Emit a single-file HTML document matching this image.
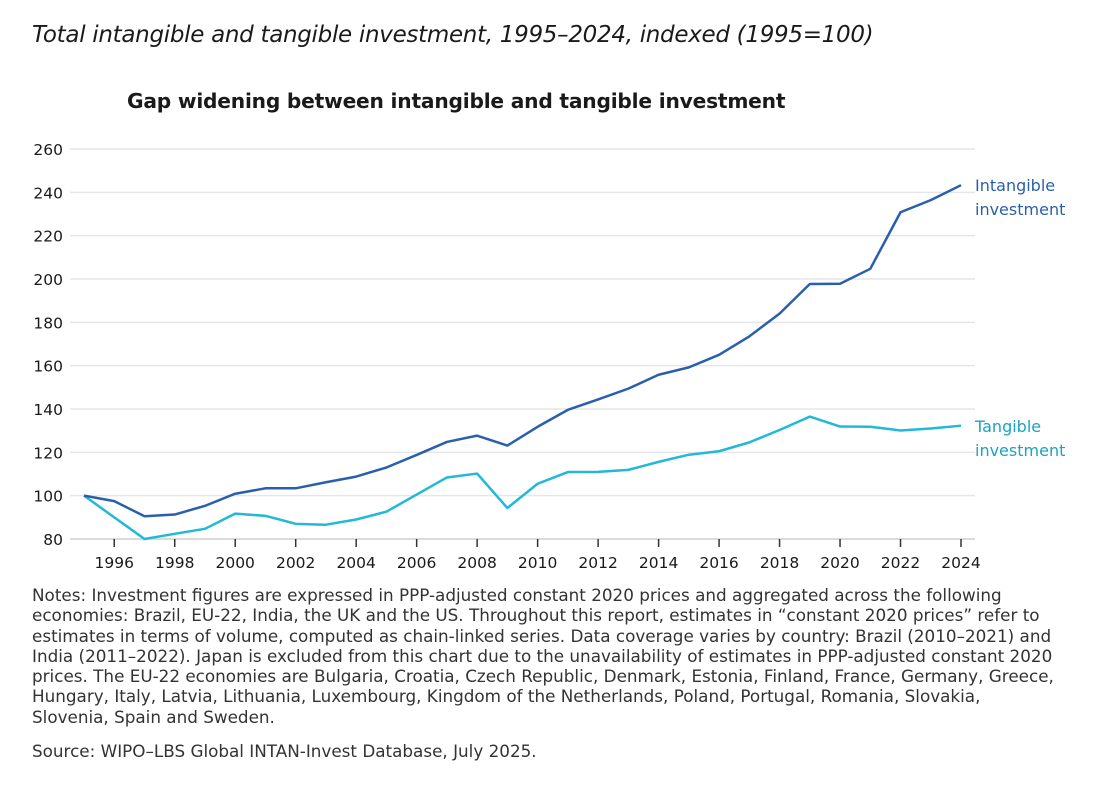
<!DOCTYPE html>
<html><head><meta charset="utf-8"><style>
body{margin:0;background:#fff;font-family:"DejaVu Sans",sans-serif;}
#wrap{position:relative;width:1120px;height:790px;overflow:hidden}
.t{position:absolute;white-space:nowrap;color:#1a1a1a}
</style></head><body><div id="wrap">
<div class="t" style="left:32px;top:22px;font-size:23px;font-style:italic;letter-spacing:-0.3px">Total intangible and tangible investment, 1995–2024, indexed (1995=100)</div>
<div class="t" style="left:127px;top:89px;font-size:20.2px;font-weight:bold;letter-spacing:-0.2px">Gap widening between intangible and tangible investment</div>
<svg id="c" width="1120" height="580" style="position:absolute;left:0;top:0"></svg>
<div class="t" style="left:32px;top:585px;font-size:16.8px;line-height:20.3px;color:#333;white-space:normal;width:1075px;letter-spacing:0px">Notes: Investment figures are expressed in PPP-adjusted constant 2020 prices and aggregated across the following<br>economies: Brazil, EU-22, India, the UK and the US. Throughout this report, estimates in “constant 2020 prices” refer to<br>estimates in terms of volume, computed as chain-linked series. Data coverage varies by country: Brazil (2010–2021) and<br>India (2011–2022). Japan is excluded from this chart due to the unavailability of estimates in PPP-adjusted constant 2020<br>prices. The EU-22 economies are Bulgaria, Croatia, Czech Republic, Denmark, Estonia, Finland, France, Germany, Greece,<br>Hungary, Italy, Latvia, Lithuania, Luxembourg, Kingdom of the Netherlands, Poland, Portugal, Romania, Slovakia,<br>Slovenia, Spain and Sweden.</div>
<div class="t" style="left:32px;top:741px;font-size:16.8px;color:#333;letter-spacing:0px">Source: WIPO–LBS Global INTAN-Invest Database, July 2025.</div>
</div>
<script>
const years=[1995,1996,1997,1998,1999,2000,2001,2002,2003,2004,2005,2006,2007,2008,2009,2010,2011,2012,2013,2014,2015,2016,2017,2018,2019,2020,2021,2022,2023,2024];
const intangible=[100,97.5,90.5,91.3,95.3,100.9,103.4,103.4,106.2,108.8,113,118.8,124.8,127.7,123.1,131.8,139.6,144.4,149.4,155.8,159.2,165,173.5,184,197.7,197.8,204.7,230.8,236.4,243.3];
const tangible=[100,90,80,82.4,84.7,91.7,90.7,87,86.6,89,92.6,100.5,108.4,110.2,94.3,105.5,110.9,111,111.9,115.6,118.9,120.5,124.6,130.3,136.5,131.9,131.8,130.1,131,132.3];
const yTicks=[80,100,120,140,160,180,200,220,240,260];
const xTicks=[1996,1998,2000,2002,2004,2006,2008,2010,2012,2014,2016,2018,2020,2022,2024];
const X=y=>84+(y-1995)*(961-84)/29;
const Y=v=>539-(v-80)*390/180;
const s=document.getElementById('c');const NS='http://www.w3.org/2000/svg';
function el(t,a,txt){const e=document.createElementNS(NS,t);for(const k in a)e.setAttribute(k,a[k]);if(txt!==undefined)e.textContent=txt;s.appendChild(e);return e;}
yTicks.forEach(v=>{
 const g=el('line',{x1:70,x2:975,y1:Y(v),y2:Y(v),stroke:v===80?'#cfcfcf':'#e6e6e6','stroke-width':1.5});
 
 
 const t=el('text',{x:63,y:Y(v)+6,'text-anchor':'end','font-size':15.5,fill:'#1a1a1a','font-family':'DejaVu Sans'},v);
 
 
});
xTicks.forEach(y=>{
 const l=el('line',{x1:X(y),x2:X(y),y1:539,y2:547,stroke:'#333','stroke-width':1.5});
 
 
 const t=el('text',{x:X(y),y:568,'text-anchor':'middle','font-size':15.5,fill:'#1a1a1a','font-family':'DejaVu Sans'},y);
 
 
});
function line(d,c,n){const p=el('polyline',{points:d.map((v,i)=>X(years[i])+','+Y(v)).join(' '),fill:'none',stroke:c,'stroke-width':2.5,'stroke-linejoin':'round'});
 
 }
line(tangible,'#22b8d8','tangible-line');
line(intangible,'#2a5fad','intangible-line');
function lab(x,y,txt,c,n){const t=el('text',{x:x,y:y,'font-size':16,fill:c,'font-family':'DejaVu Sans'},txt);
 
 }
lab(975,191,'Intangible','#2a5fad','intangible-label');lab(975,215,'investment','#2a5fad','intangible-label-2');
lab(975,432,'Tangible','#1aa3c4','tangible-label');lab(975,456,'investment','#1aa3c4','tangible-label-2');
</script></body></html>
